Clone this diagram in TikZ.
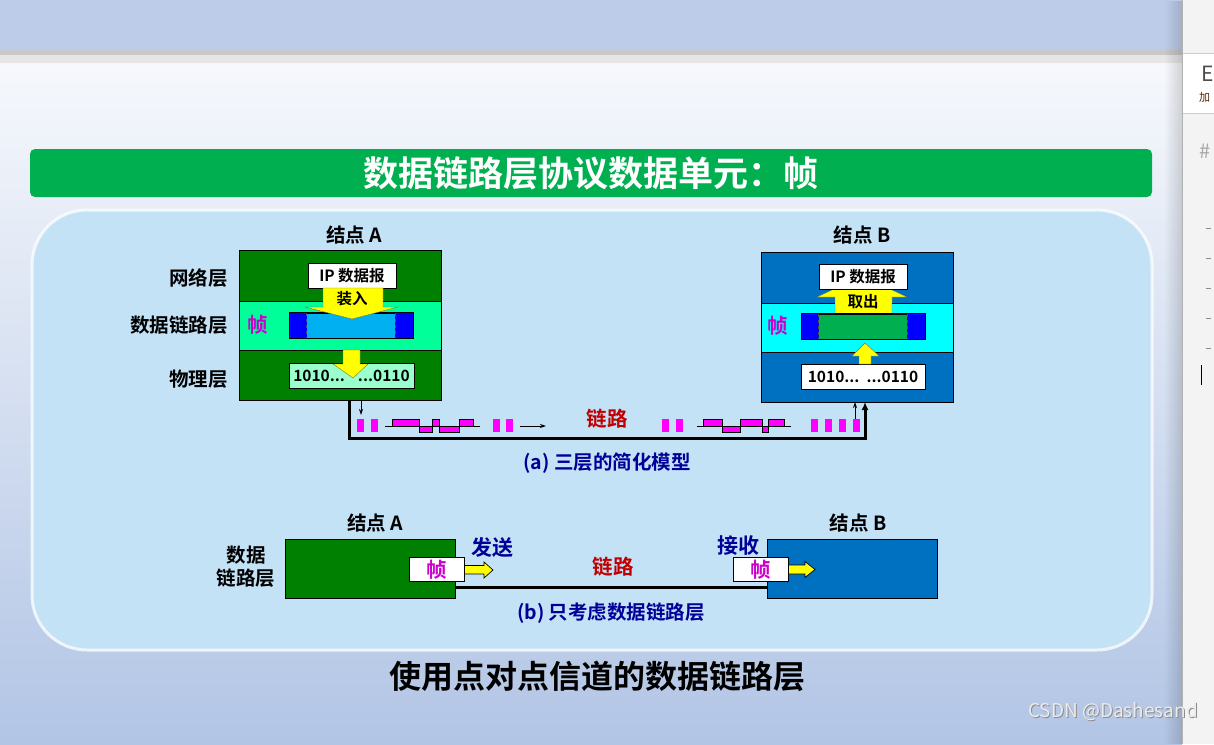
\documentclass[tikz,border=0pt]{standalone}
\usepackage{fontspec}
\setmainfont{Noto Sans CJK SC}[BoldFont=* Bold]
\usetikzlibrary{arrows.meta,fadings}
\definecolor{topband}{RGB}{189,205,233}
\definecolor{gray1}{RGB}{200,200,200}
\definecolor{gray2}{RGB}{230,230,230}
\definecolor{slidetop}{RGB}{246,248,252}
\definecolor{slidebot}{RGB}{178,197,229}
\definecolor{rpanel}{RGB}{243,243,243}
\definecolor{titlegreen}{RGB}{0,176,80}
\definecolor{panelblue}{RGB}{196,226,246}
\definecolor{dkgreen}{RGB}{0,128,0}
\definecolor{mint}{RGB}{0,255,153}
\definecolor{lightmint}{RGB}{153,255,204}
\definecolor{framecyan}{RGB}{0,176,240}
\definecolor{frameblue}{RGB}{0,0,255}
\definecolor{nodeblue}{RGB}{0,112,192}
\definecolor{brightcyan}{RGB}{0,255,255}
\definecolor{framegreen}{RGB}{0,176,80}
\definecolor{sigmag}{RGB}{255,0,255}
\definecolor{zhenmag}{RGB}{204,0,204}
\definecolor{navy}{RGB}{0,0,153}
\definecolor{darkred}{RGB}{192,0,0}
\definecolor{arrowyellow}{RGB}{255,255,0}
\tikzset{
  lay/.style={draw=black, line width=0.9pt, inner sep=0pt},
  wbox/.style={draw=black, line width=0.8pt, fill=white, inner sep=0pt},
  lbl/.style={font=\bfseries\fontsize{19.5}{21}\selectfont, inner sep=0pt},
  small/.style={font=\bfseries\fontsize{15.5}{17}\selectfont, inner sep=0pt},
  captxt/.style={font=\bfseries\fontsize{19.5}{21}\selectfont, text=navy, inner sep=0pt},
  redlbl/.style={font=\bfseries\fontsize{20.5}{22}\selectfont, text=darkred, inner sep=0pt},
  bluelbl/.style={font=\bfseries\fontsize{21}{23}\selectfont, text=navy, inner sep=0pt},
  zhen/.style={font=\bfseries\fontsize{20.5}{22}\selectfont, text=zhenmag, inner sep=0pt},
  yarrow/.style={fill=arrowyellow, draw=black!60!yellow, line width=0.4pt},
  yarrowb/.style={fill=arrowyellow, draw=black, line width=0.7pt},
  link/.style={draw=black, line width=3pt},
  sig/.style={fill=sigmag},
  pulse/.style={fill=sigmag, draw=black, line width=0.6pt},
  wmark/.style={font=\fontsize{19}{21}\selectfont, inner sep=0, anchor=west},
}
\begin{document}
\begin{tikzpicture}[x=1pt,y=-1pt]
\useasboundingbox (0,0) rectangle (1214,744);
% background
\fill[topband] (0,0) rectangle (1182,50);
\fill[gray1] (0,50) rectangle (1182,55);
\fill[gray2] (0,55) rectangle (1182,63);
\shade[top color=slidetop, bottom color=slidebot] (0,63) rectangle (1182,744);
\fill[black, opacity=0.15, path fading=west] (1164,0) rectangle (1182,744);
% right panel
\fill[rpanel] (1182,0) rectangle (1214,744);
\fill[white] (1182,53) rectangle (1214,113);
\draw[gray!40] (1182,53) -- (1214,53) (1182,113) -- (1214,113);
\draw[gray!60] (1182,0) -- (1182,744);
\begin{scope}
\clip (1182,0) rectangle (1214,744);
\node[font=\fontsize{21}{21}\selectfont, text=black!70, anchor=west, inner sep=0] (pE) at (1201,74) {E};
\node[font=\fontsize{11}{11}\selectfont, text=black!70!orange, anchor=west, inner sep=0] (pJ) at (1199,97) {加};
\node[font=\fontsize{20}{20}\selectfont, text=black!35, anchor=west, inner sep=0] (pH) at (1199,151) {\#};
\foreach \yy in {228,258,288,318,348} \draw[black!45, line width=0.8pt] (1206,\yy) -- (1211,\yy);
\draw[black, line width=0.8pt] (1201,365) -- (1201,385);
\end{scope}
% title bar
\node[fill=titlegreen, rounded corners=5pt, minimum width=1122pt, minimum height=48pt, inner sep=0,
  font=\bfseries\fontsize{35}{37}\selectfont, text=white] (title) at (591,173) {数据链路层协议数据单元：帧};
% panel
\draw[fill=panelblue, draw=white, draw opacity=0.75, line width=3pt, rounded corners=55pt] (32,210) rectangle (1152,650);

% ================= Node A (a)
\node[lbl] (Alabel) at (354,235) {结点 A};
\node[lay, fill=dkgreen, minimum width=202pt, minimum height=51pt] (Anet) at (340,275.5) {};
\node[lay, fill=mint, minimum width=202pt, minimum height=49pt] (Adl) at (340,325.5) {};
\node[lay, fill=dkgreen, minimum width=202pt, minimum height=50pt] (Aphy) at (340,375) {};
\node[lbl, anchor=east] (Lnet) at (228,278) {网络层};
\node[lbl, anchor=east] (Ldl) at (228,325) {数据链路层};
\node[lbl, anchor=east] (Lphy) at (228,379) {物理层};
\node[wbox, small, minimum width=88pt, minimum height=25pt] (Aip) at (352,275.5) {IP 数据报};
% frame A
\node[draw=black, line width=0.8pt, fill=framecyan, minimum width=123pt, minimum height=25pt, inner sep=0] (Afr) at (351.5,325.5) {};
\fill[frameblue] (Afr.north west) rectangle ([xshift=17pt]Afr.south west);
\fill[frameblue] ([xshift=-18pt]Afr.north east) rectangle (Afr.south east);
\draw[line width=0.8pt] (Afr.north west) rectangle (Afr.south east);
\draw[dashed, line width=0.8pt, black!70] ([xshift=17pt]Afr.north west) -- ([xshift=17pt]Afr.south west);
\draw[dashed, line width=0.8pt, black!70] ([xshift=-18pt]Afr.north east) -- ([xshift=-18pt]Afr.south east);
\node[zhen] (Azhen) at (258,325) {帧};
% arrow 装入
\draw[yarrow] (323,288) -- (383,288) -- (383,307) -- (398,307) -- (352,319) -- (305,307) -- (323,307) -- cycle;
\node[font=\bfseries\fontsize{15.5}{17}\selectfont, inner sep=0] (Aload) at (352,299) {装入};
% physical A
\node[draw=black, line width=0.8pt, fill=lightmint, small, minimum width=125pt, minimum height=25pt, inner sep=0] (Abits) at (351.5,375.5) {1010...\hspace{13pt}...0110};
\draw[yarrow] (343,350) -- (360,350) -- (360,364) -- (368,364) -- (353,378) -- (333,364) -- (343,364) -- cycle;

% ================= Node B (a)
\node[lbl] (Blabel) at (862,235) {结点 B};
\node[lay, fill=nodeblue, minimum width=192pt, minimum height=51pt] (Bnet) at (857,277.5) {};
\node[lay, fill=brightcyan, minimum width=192pt, minimum height=49pt] (Bdl) at (857,327.5) {};
\node[lay, fill=nodeblue, minimum width=192pt, minimum height=50pt] (Bphy) at (857,377) {};
% arrow 取出
\draw[yarrow] (835,315) -- (835,297) -- (817,297) -- (862,276) -- (907,297) -- (892,297) -- (892,315) -- cycle;
\node[wbox, small, minimum width=88pt, minimum height=25pt] (Bip) at (863,276.5) {IP 数据报};
\node[font=\bfseries\fontsize{15.5}{17}\selectfont, inner sep=0] (Bget) at (863,302) {取出};
% frame B
\node[draw=black, line width=0.8pt, fill=framegreen, minimum width=123pt, minimum height=25pt, inner sep=0] (Bfr) at (863.5,326.5) {};
\fill[frameblue] (Bfr.north west) rectangle ([xshift=17pt]Bfr.south west);
\fill[frameblue] ([xshift=-18pt]Bfr.north east) rectangle (Bfr.south east);
\draw[line width=0.8pt] (Bfr.north west) rectangle (Bfr.south east);
\draw[dashed, line width=0.8pt, black!70] ([xshift=17pt]Bfr.north west) -- ([xshift=17pt]Bfr.south west);
\draw[dashed, line width=0.8pt, black!70] ([xshift=-18pt]Bfr.north east) -- ([xshift=-18pt]Bfr.south east);
\node[zhen] (Bzhen) at (778,326) {帧};
% physical B
\node[wbox, small, minimum width=124pt, minimum height=25pt] (Bbits) at (863,376.5) {1010...\hspace{7pt}...0110};
\draw[yarrow] (859,364) -- (859,356) -- (852,356) -- (865,343) -- (879,356) -- (871,356) -- (871,364) -- cycle;

% ================= link (a)
\coordinate (Aout) at (349,400.5);
\coordinate (Bin) at (865,402);
\coordinate (Aoutthin) at (361,400.5);
\coordinate (Bintin) at (855,402);
\draw[link, -{Latex[length=8pt,width=7pt]}] (Aout) -- (349,438) -- (865,438) -- (Bin);
\draw[line width=0.9pt, -{Stealth[length=6pt,width=4pt]}] (Aoutthin) -- (361,415);
\draw[line width=0.9pt, -{Stealth[length=6pt,width=4pt]}] (855,428) -- (Bintin);
\foreach \xx in {357,371,493,506,662,676,811,825,839,853} \fill[sig] (\xx,419) rectangle ++(7,13);
% left waveform
\draw[line width=0.8pt] (385,426) -- (480,426);
\filldraw[pulse] (392,419) rectangle (419,426);
\filldraw[pulse] (419,426) rectangle (432,432);
\filldraw[pulse] (432,419) rectangle (439,426);
\filldraw[pulse] (439,426) rectangle (459,432);
\filldraw[pulse] (459,419) rectangle (473,426);
% right waveform
\draw[line width=0.8pt] (697,426) -- (791,426);
\filldraw[pulse] (703,419) rectangle (722,426);
\filldraw[pulse] (722,426) rectangle (740,432);
\filldraw[pulse] (740,419) rectangle (762,426);
\filldraw[pulse] (762,426) rectangle (768,432);
\filldraw[pulse] (768,419) rectangle (784,426);
\draw[line width=0.9pt, -{Stealth[length=6pt,width=4pt]}] (520,426) -- (546,426);
\node[redlbl] (linkA) at (607,419) {链路};
\node[captxt] (capA) at (607,463) {(a) 三层的简化模型};

% ================= part (b)
\node[lbl] (bAlabel) at (375,523) {结点 A};
\node[lbl] (bBlabel) at (858,523) {结点 B};
\node[lbl, align=center, font=\bfseries\fontsize{19.5}{23}\selectfont] (bLdl) at (246,567) {数据\\链路层};
\node[lay, fill=dkgreen, minimum width=170pt, minimum height=59pt] (bA) at (370,568.5) {};
\node[lay, fill=nodeblue, minimum width=170pt, minimum height=59pt] (bB) at (852,568.5) {};
\draw[link] ([yshift=-18.5pt]bA.east) -- ([yshift=-18.5pt]bB.west);
\node[wbox, zhen, minimum width=55pt, minimum height=24pt] (bAfr) at (436.5,569.5) {帧};
\node[wbox, zhen, minimum width=55pt, minimum height=24pt] (bBfr) at (760.5,569.5) {帧};
\draw[yarrowb] (bAfr.east |- 0,565.5) -- (484,565.5) -- (484,562) -- (493,570) -- (484,578) -- (484,574) -- (bAfr.east |- 0,574) -- cycle;
\draw[yarrowb] (bBfr.east |- 0,565) -- (805,565) -- (805,561.5) -- (815,569.5) -- (805,577.5) -- (805,574) -- (bBfr.east |- 0,574) -- cycle;
\node[bluelbl] (send) at (492,548) {发送};
\node[bluelbl] (recv) at (738,546) {接收};
\node[redlbl] (linkB) at (613,567) {链路};
\node[captxt] (capB) at (611,613) {(b) 只考虑数据链路层};

% bottom title
\node[font=\bfseries\fontsize{32}{34}\selectfont, inner sep=0] (btitle) at (597,676) {使用点对点信道的数据链路层};
% watermark
\node[wmark, text=black!45] (wmshadow) at (1029,713) {CSDN @Dashesand};
\node[wmark, text=black!8] (wm) at (1028,712) {CSDN @Dashesand};
\end{tikzpicture}
\end{document}
